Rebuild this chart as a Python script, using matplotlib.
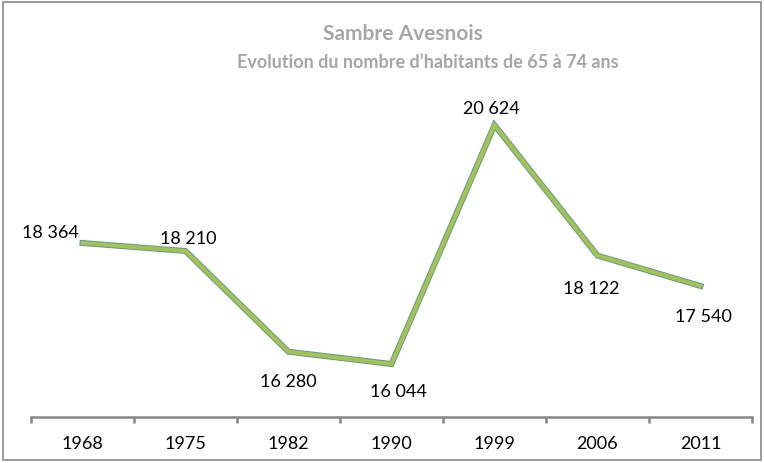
import matplotlib.pyplot as plt
import matplotlib.patheffects as pe
from matplotlib.patches import Rectangle
import numpy as np

years = ['1968', '1975', '1982', '1990', '1999', '2006', '2011']
habitants = [18364, 18210, 16280, 16044, 20624, 18122, 17540]
labels = ['18 364', '18 210', '16 280', '16 044', '20 624', '18 122', '17 540']

# label offsets in pixels (dx, dy of the baseline)
offsets = [(-32, 6), (3, 8), (0, -34), (7, -32), (-3, 12), (-6, -37), (3, -35)]

plt.rcParams['font.family'] = ['Lato', 'DejaVu Sans']

fig = plt.figure(figsize=(7.64, 4.64), dpi=100)
W, H = 764, 464
ax = fig.add_axes([31 / W, (H - 417.5) / H, (752 - 31) / W, (417.5 - 104.5) / H])

x = np.arange(len(years))
ax.plot(x, habitants, color='#A5C83A', lw=2.9, solid_joinstyle='miter',
        path_effects=[pe.Stroke(linewidth=4.3, foreground='#5E8FCB'), pe.Normal()])

for xi, yi, lab, (dx, dy) in zip(x, habitants, labels, offsets):
    ax.annotate(lab, (xi, yi), xytext=(dx, dy), textcoords='offset pixels',
                ha='center', va='baseline', fontsize=13, color='black')

ax.set_xlim(-0.5, len(years) - 0.5)
ax.set_ylim(15038, 21038)

for s in ['top', 'right', 'left']:
    ax.spines[s].set_visible(False)
ax.spines['bottom'].set_color('#868686')
ax.spines['bottom'].set_linewidth(1.8)
ax.set_yticks([])

ax.set_xticks(np.arange(-0.5, len(years)), labels=[])
ax.tick_params(axis='x', which='major', length=4.5, width=1.8, color='#868686', direction='out')
ax.set_xticks(x, labels=years, minor=True)
ax.tick_params(axis='x', which='minor', length=0, pad=13.5, labelsize=13)

fig.text(403 / W, 1 - 40 / H, 'Sambre Avesnois', ha='center', va='baseline',
         fontsize=15, fontweight='bold', color='#A6A6A6')
fig.text(428 / W, 1 - 68 / H, 'Evolution du nombre d\u2019habitants de 65 \u00e0 74 ans',
         ha='center', va='baseline', fontsize=13, fontweight='bold', color='#A6A6A6')

fig.patches.append(Rectangle((2.5 / W, 3 / H), 758 / W, 458 / H,
                             transform=fig.transFigure, fill=False,
                             edgecolor='#999999', lw=1.4))

fig.savefig('out.png', dpi=100)
